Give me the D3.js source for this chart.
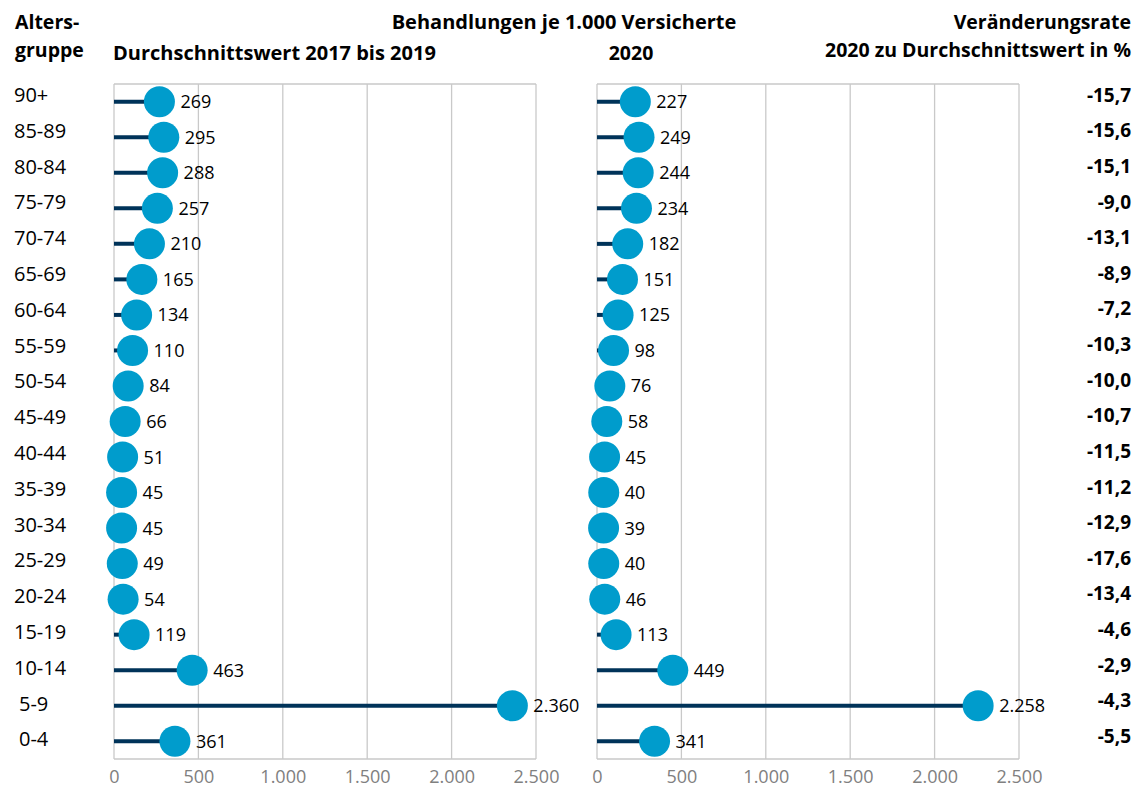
<!DOCTYPE html>
<html>
<head>
<meta charset="utf-8">
<script src="https://cdn.jsdelivr.net/npm/d3@7"></script>
<style>
  html, body { margin: 0; padding: 0; background: #ffffff; }
  svg { display: block; font-family: "Open Sans", "Noto Sans", sans-serif; }
</style>
</head>
<body>
<svg id="chart" width="1136" height="787"></svg>
<script>
// Altersgruppen von oben nach unten
const ageGroups = ["90+", "85-89", "80-84", "75-79", "70-74", "65-69", "60-64", "55-59",
  "50-54", "45-49", "40-44", "35-39", "30-34", "25-29", "20-24", "15-19", "10-14", "5-9", "0-4"];

// Behandlungen je 1.000 Versicherte, Durchschnitt 2017–2019
const avg2017to2019 = [269, 295, 288, 257, 210, 165, 134, 110, 84, 66, 51, 45, 45, 49, 54, 119, 463, 2360, 361];

// Behandlungen je 1.000 Versicherte, 2020
const values2020 = [227, 249, 244, 234, 182, 151, 125, 98, 76, 58, 45, 40, 39, 40, 46, 113, 449, 2258, 341];

// Veränderungsrate 2020 zum Durchschnittswert in %
const changeRate = [-15.7, -15.6, -15.1, -9.0, -13.1, -8.9, -7.2, -10.3, -10.0, -10.7,
  -11.5, -11.2, -12.9, -17.6, -13.4, -4.6, -2.9, -4.3, -5.5];

// Achsenwerte
const tickValues = [0, 500, 1000, 1500, 2000, 2500];

const de = d3.formatLocale({ decimal: ",", thousands: ".", grouping: [3], currency: ["", " €"], minus: "-" });
const fmtInt = de.format(",.0f");
const fmtRate = de.format(".1f");

const svg = d3.select("#chart");

const COL_STEM = "#003359";
const COL_DOT = "#009ccc";
const COL_GRID = "#c9c9c9";
const COL_TICK = "#808080";

const plotTop = 84, plotBottom = 759;

const y = d3.scaleBand().domain(ageGroups).range([plotTop, plotBottom]).padding(0);
const yLabel = d3.scaleBand().domain(ageGroups).range([77, 757]).padding(0);
const yRate = d3.scaleBand().domain(ageGroups).range([77, 754]).padding(0);

function panel(x0, x1, values) {
  const x = d3.scaleLinear().domain([0, 2500]).range([x0, x1]);
  const g = svg.append("g");

  // Gitternetz und Rahmen
  g.append("g").selectAll("line").data(tickValues).join("line")
    .attr("x1", d => x(d)).attr("x2", d => x(d))
    .attr("y1", plotTop).attr("y2", plotBottom)
    .attr("stroke", COL_GRID).attr("stroke-width", 1.3);
  g.append("line").attr("x1", x0).attr("x2", x1).attr("y1", plotTop).attr("y2", plotTop)
    .attr("stroke", COL_GRID).attr("stroke-width", 1.3);
  g.append("line").attr("x1", x0).attr("x2", x1).attr("y1", plotBottom).attr("y2", plotBottom)
    .attr("stroke", COL_GRID).attr("stroke-width", 1.3);

  // x-Achse
  const axis = d3.axisBottom(x).tickValues(tickValues).tickSize(0).tickPadding(0)
    .tickFormat(d => fmtInt(d));
  const ax = g.append("g").attr("transform", `translate(0,${plotBottom})`).call(axis);
  ax.select(".domain").remove();
  ax.selectAll("text")
    .attr("y", 24).attr("dy", null)
    .attr("fill", COL_TICK)
    .style("font-size", "18px")
    .style("font-family", "'Open Sans', sans-serif");

  const rows = values.map((v, i) => ({ group: ageGroups[i], v }));

  // Stiele
  g.append("g").selectAll("line").data(rows).join("line")
    .attr("x1", x(0)).attr("x2", d => x(d.v))
    .attr("y1", d => y(d.group) + y.bandwidth() / 2)
    .attr("y2", d => y(d.group) + y.bandwidth() / 2)
    .attr("stroke", COL_STEM).attr("stroke-width", 4);

  // Punkte
  g.append("g").selectAll("circle").data(rows).join("circle")
    .attr("cx", d => x(d.v))
    .attr("cy", d => y(d.group) + y.bandwidth() / 2)
    .attr("r", 15.5)
    .attr("fill", COL_DOT);

  // Wertbeschriftungen
  g.append("g").selectAll("text").data(rows).join("text")
    .attr("x", d => x(d.v) + 21)
    .attr("y", d => y(d.group) + y.bandwidth() / 2)
    .attr("dy", "0.36em")
    .attr("fill", "#000")
    .style("font-size", "18px")
    .text(d => fmtInt(d.v));
}

panel(114, 536, avg2017to2019);
panel(597, 1019, values2020);

// Altersgruppen-Beschriftung
svg.append("g").selectAll("text").data(ageGroups).join("text")
  .attr("x", d => d.length === 3 && d.indexOf("-") === 1 ? 19 : 14)
  .attr("y", d => yLabel(d) + yLabel.bandwidth() / 2)
  .attr("dy", "0.36em")
  .attr("fill", "#000")
  .style("font-size", "20px")
  .text(d => d);

// Veränderungsraten
svg.append("g").selectAll("text").data(ageGroups).join("text")
  .attr("x", 1131)
  .attr("y", d => yRate(d) + yRate.bandwidth() / 2)
  .attr("dy", "0.36em")
  .attr("text-anchor", "end")
  .attr("fill", "#000")
  .style("font-size", "19px")
  .style("font-weight", "700")
  .text((d, i) => fmtRate(changeRate[i]));

// Überschriften
const head = svg.append("g").style("font-weight", "700").style("font-size", "19.5px").attr("fill", "#000");
head.append("text").attr("x", 15).attr("y", 29).text("Alters-");
head.append("text").attr("x", 15).attr("y", 57).text("gruppe");
head.append("text").attr("x", 564).attr("y", 29).attr("text-anchor", "middle")
  .style("font-size", "20px").text("Behandlungen je 1.000 Versicherte");
head.append("text").attr("x", 113).attr("y", 60)
  .style("font-size", "20px").text("Durchschnittswert 2017 bis 2019");
head.append("text").attr("x", 631).attr("y", 60).attr("text-anchor", "middle").text("2020");
head.append("text").attr("x", 1131).attr("y", 29).attr("text-anchor", "end").text("Veränderungsrate");
head.append("text").attr("x", 1131).attr("y", 57).attr("text-anchor", "end").text("2020 zu Durchschnittswert in %");
</script>
</body>
</html>
